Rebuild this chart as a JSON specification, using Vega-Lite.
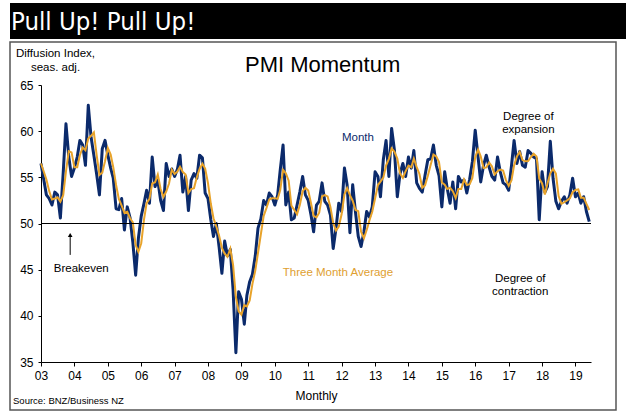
{
  "$schema": "https://vega.github.io/schema/vega-lite/v6.json",
  "description": "BNZ-BusinessNZ PMI, monthly with three month average",
  "background": "white",
  "padding": {"left": 9, "top": 3, "right": 0, "bottom": 0},
  "spacing": 3,
  "bounds": "flush",
  "config": {
    "font": "Liberation Sans",
    "axis": {"grid": false, "domainColor": "black", "tickColor": "black", "labelColor": "black", "titleColor": "black", "titleFontWeight": "normal"}
  },
  "vconcat": [
    {
      "width": 617,
      "height": 36,
      "view": {"fill": "black", "stroke": null},
      "data": {"values": [{"label": "Pull Up! Pull Up!"}]},
      "mark": {"type": "text", "align": "left", "baseline": "middle", "color": "white", "font": "Liberation Sans Narrow, DejaVu Sans Condensed, sans-serif", "fontSize": 25.5, "dx": 1, "dy": 1},
      "encoding": {
        "x": {"datum": 0, "type": "quantitative", "scale": {"domain": [0, 1]}, "axis": null},
        "text": {"field": "label"}
      }
    },
    {
      "width": 606,
      "height": 368,
      "view": {"stroke": "#555555", "strokeWidth": 1.5, "fill": "white"},
      "data": {"values": [
        {"month": "2003-01-01", "pmi": 56.5}, {"month": "2003-02-01", "pmi": 54.7}, {"month": "2003-03-01", "pmi": 53.1}, {"month": "2003-04-01", "pmi": 52.7},
        {"month": "2003-05-01", "pmi": 52.0}, {"month": "2003-06-01", "pmi": 53.4}, {"month": "2003-07-01", "pmi": 53.1}, {"month": "2003-08-01", "pmi": 50.6},
        {"month": "2003-09-01", "pmi": 55.5}, {"month": "2003-10-01", "pmi": 60.8}, {"month": "2003-11-01", "pmi": 57.2}, {"month": "2003-12-01", "pmi": 55.1},
        {"month": "2004-01-01", "pmi": 56.0}, {"month": "2004-02-01", "pmi": 57.2}, {"month": "2004-03-01", "pmi": 59.0}, {"month": "2004-04-01", "pmi": 58.5},
        {"month": "2004-05-01", "pmi": 56.3}, {"month": "2004-06-01", "pmi": 62.8}, {"month": "2004-07-01", "pmi": 59.4}, {"month": "2004-08-01", "pmi": 57.4},
        {"month": "2004-09-01", "pmi": 55.3}, {"month": "2004-10-01", "pmi": 53.1}, {"month": "2004-11-01", "pmi": 58.1}, {"month": "2004-12-01", "pmi": 59.0},
        {"month": "2005-01-01", "pmi": 57.4}, {"month": "2005-02-01", "pmi": 56.0}, {"month": "2005-03-01", "pmi": 54.9}, {"month": "2005-04-01", "pmi": 51.6},
        {"month": "2005-05-01", "pmi": 51.5}, {"month": "2005-06-01", "pmi": 52.7}, {"month": "2005-07-01", "pmi": 49.3}, {"month": "2005-08-01", "pmi": 51.8},
        {"month": "2005-09-01", "pmi": 50.6}, {"month": "2005-10-01", "pmi": 48.0}, {"month": "2005-11-01", "pmi": 44.4}, {"month": "2005-12-01", "pmi": 48.4},
        {"month": "2006-01-01", "pmi": 50.8}, {"month": "2006-02-01", "pmi": 52.2}, {"month": "2006-03-01", "pmi": 53.6}, {"month": "2006-04-01", "pmi": 52.2},
        {"month": "2006-05-01", "pmi": 57.2}, {"month": "2006-06-01", "pmi": 54.0}, {"month": "2006-07-01", "pmi": 54.7}, {"month": "2006-08-01", "pmi": 52.5},
        {"month": "2006-09-01", "pmi": 51.4}, {"month": "2006-10-01", "pmi": 56.5}, {"month": "2006-11-01", "pmi": 55.1}, {"month": "2006-12-01", "pmi": 55.9},
        {"month": "2007-01-01", "pmi": 55.1}, {"month": "2007-02-01", "pmi": 55.9}, {"month": "2007-03-01", "pmi": 57.4}, {"month": "2007-04-01", "pmi": 53.4},
        {"month": "2007-05-01", "pmi": 55.1}, {"month": "2007-06-01", "pmi": 51.4}, {"month": "2007-07-01", "pmi": 54.7}, {"month": "2007-08-01", "pmi": 55.4},
        {"month": "2007-09-01", "pmi": 54.9}, {"month": "2007-10-01", "pmi": 57.4}, {"month": "2007-11-01", "pmi": 57.1}, {"month": "2007-12-01", "pmi": 53.3},
        {"month": "2008-01-01", "pmi": 52.7}, {"month": "2008-02-01", "pmi": 50.4}, {"month": "2008-03-01", "pmi": 48.6}, {"month": "2008-04-01", "pmi": 50.0},
        {"month": "2008-05-01", "pmi": 47.5}, {"month": "2008-06-01", "pmi": 44.6}, {"month": "2008-07-01", "pmi": 48.1}, {"month": "2008-08-01", "pmi": 46.5},
        {"month": "2008-09-01", "pmi": 47.2}, {"month": "2008-10-01", "pmi": 42.9}, {"month": "2008-11-01", "pmi": 36.0}, {"month": "2008-12-01", "pmi": 42.6},
        {"month": "2009-01-01", "pmi": 41.8}, {"month": "2009-02-01", "pmi": 39.1}, {"month": "2009-03-01", "pmi": 42.2}, {"month": "2009-04-01", "pmi": 43.7},
        {"month": "2009-05-01", "pmi": 44.5}, {"month": "2009-06-01", "pmi": 46.5}, {"month": "2009-07-01", "pmi": 49.5}, {"month": "2009-08-01", "pmi": 50.5},
        {"month": "2009-09-01", "pmi": 52.5}, {"month": "2009-10-01", "pmi": 52.0}, {"month": "2009-11-01", "pmi": 53.3}, {"month": "2009-12-01", "pmi": 52.9},
        {"month": "2010-01-01", "pmi": 52.0}, {"month": "2010-02-01", "pmi": 53.1}, {"month": "2010-03-01", "pmi": 55.8}, {"month": "2010-04-01", "pmi": 58.5},
        {"month": "2010-05-01", "pmi": 52.0}, {"month": "2010-06-01", "pmi": 53.4}, {"month": "2010-07-01", "pmi": 50.4}, {"month": "2010-08-01", "pmi": 50.6},
        {"month": "2010-09-01", "pmi": 52.0}, {"month": "2010-10-01", "pmi": 53.4}, {"month": "2010-11-01", "pmi": 55.1}, {"month": "2010-12-01", "pmi": 53.1},
        {"month": "2011-01-01", "pmi": 52.5}, {"month": "2011-02-01", "pmi": 50.9}, {"month": "2011-03-01", "pmi": 49.1}, {"month": "2011-04-01", "pmi": 52.0},
        {"month": "2011-05-01", "pmi": 52.4}, {"month": "2011-06-01", "pmi": 54.4}, {"month": "2011-07-01", "pmi": 52.4}, {"month": "2011-08-01", "pmi": 52.0},
        {"month": "2011-09-01", "pmi": 50.9}, {"month": "2011-10-01", "pmi": 47.3}, {"month": "2011-11-01", "pmi": 49.5}, {"month": "2011-12-01", "pmi": 52.2},
        {"month": "2012-01-01", "pmi": 51.3}, {"month": "2012-02-01", "pmi": 56.0}, {"month": "2012-03-01", "pmi": 54.2}, {"month": "2012-04-01", "pmi": 49.0},
        {"month": "2012-05-01", "pmi": 54.2}, {"month": "2012-06-01", "pmi": 51.2}, {"month": "2012-07-01", "pmi": 48.6}, {"month": "2012-08-01", "pmi": 47.5},
        {"month": "2012-09-01", "pmi": 49.1}, {"month": "2012-10-01", "pmi": 51.3}, {"month": "2012-11-01", "pmi": 50.7}, {"month": "2012-12-01", "pmi": 51.8},
        {"month": "2013-01-01", "pmi": 55.6}, {"month": "2013-02-01", "pmi": 55.1}, {"month": "2013-03-01", "pmi": 52.9}, {"month": "2013-04-01", "pmi": 56.9},
        {"month": "2013-05-01", "pmi": 59.0}, {"month": "2013-06-01", "pmi": 55.1}, {"month": "2013-07-01", "pmi": 60.3}, {"month": "2013-08-01", "pmi": 57.9},
        {"month": "2013-09-01", "pmi": 52.9}, {"month": "2013-10-01", "pmi": 55.4}, {"month": "2013-11-01", "pmi": 56.5}, {"month": "2013-12-01", "pmi": 55.1},
        {"month": "2014-01-01", "pmi": 57.2}, {"month": "2014-02-01", "pmi": 56.0}, {"month": "2014-03-01", "pmi": 57.9}, {"month": "2014-04-01", "pmi": 54.4},
        {"month": "2014-05-01", "pmi": 53.8}, {"month": "2014-06-01", "pmi": 53.4}, {"month": "2014-07-01", "pmi": 55.2}, {"month": "2014-08-01", "pmi": 56.9},
        {"month": "2014-09-01", "pmi": 57.0}, {"month": "2014-10-01", "pmi": 58.5}, {"month": "2014-11-01", "pmi": 56.3}, {"month": "2014-12-01", "pmi": 55.2},
        {"month": "2015-01-01", "pmi": 51.8}, {"month": "2015-02-01", "pmi": 55.6}, {"month": "2015-03-01", "pmi": 53.8}, {"month": "2015-04-01", "pmi": 52.2},
        {"month": "2015-05-01", "pmi": 54.5}, {"month": "2015-06-01", "pmi": 51.6}, {"month": "2015-07-01", "pmi": 55.1}, {"month": "2015-08-01", "pmi": 54.5},
        {"month": "2015-09-01", "pmi": 54.7}, {"month": "2015-10-01", "pmi": 53.3}, {"month": "2015-11-01", "pmi": 54.8}, {"month": "2015-12-01", "pmi": 56.7},
        {"month": "2016-01-01", "pmi": 60.1}, {"month": "2016-02-01", "pmi": 57.2}, {"month": "2016-03-01", "pmi": 54.5}, {"month": "2016-04-01", "pmi": 56.3},
        {"month": "2016-05-01", "pmi": 57.4}, {"month": "2016-06-01", "pmi": 56.1}, {"month": "2016-07-01", "pmi": 55.1}, {"month": "2016-08-01", "pmi": 54.7},
        {"month": "2016-09-01", "pmi": 57.2}, {"month": "2016-10-01", "pmi": 55.6}, {"month": "2016-11-01", "pmi": 54.4}, {"month": "2016-12-01", "pmi": 54.2},
        {"month": "2017-01-01", "pmi": 53.6}, {"month": "2017-02-01", "pmi": 56.3}, {"month": "2017-03-01", "pmi": 59.0}, {"month": "2017-04-01", "pmi": 56.5},
        {"month": "2017-05-01", "pmi": 57.8}, {"month": "2017-06-01", "pmi": 56.3}, {"month": "2017-07-01", "pmi": 56.1}, {"month": "2017-08-01", "pmi": 57.9},
        {"month": "2017-09-01", "pmi": 57.6}, {"month": "2017-10-01", "pmi": 57.2}, {"month": "2017-11-01", "pmi": 57.0}, {"month": "2017-12-01", "pmi": 50.4},
        {"month": "2018-01-01", "pmi": 55.6}, {"month": "2018-02-01", "pmi": 53.4}, {"month": "2018-03-01", "pmi": 54.0}, {"month": "2018-04-01", "pmi": 58.9},
        {"month": "2018-05-01", "pmi": 54.9}, {"month": "2018-06-01", "pmi": 52.4}, {"month": "2018-07-01", "pmi": 51.6}, {"month": "2018-08-01", "pmi": 52.4},
        {"month": "2018-09-01", "pmi": 52.9}, {"month": "2018-10-01", "pmi": 52.2}, {"month": "2018-11-01", "pmi": 53.1}, {"month": "2018-12-01", "pmi": 54.9},
        {"month": "2019-01-01", "pmi": 52.9}, {"month": "2019-02-01", "pmi": 53.3}, {"month": "2019-03-01", "pmi": 52.2}, {"month": "2019-04-01", "pmi": 52.9},
        {"month": "2019-05-01", "pmi": 51.3}, {"month": "2019-06-01", "pmi": 50.2}
      ]},
      "layer": [
        {
          "mark": {"type": "line", "color": "#0b2a6b", "strokeWidth": 3, "strokeJoin": "round"},
          "encoding": {
            "x": {
              "field": "month", "type": "temporal",
              "scale": {"domain": [{"year": 2003, "month": 1, "date": 1}, {"year": 2019, "month": 6, "date": 20}], "range": [31, 581]},
              "axis": {"format": "%y", "tickCount": "year", "offset": -48, "tickSize": 4, "labelPadding": 4, "labelFontSize": 12, "labelFlush": false, "labelOverlap": false, "title": "Monthly", "titleFontSize": 12, "titlePadding": 9}
            },
            "y": {
              "field": "pmi", "type": "quantitative",
              "scale": {"domain": [35, 65], "range": [320, 43], "nice": false, "zero": false},
              "axis": {"values": [35, 40, 45, 50, 55, 60, 65], "offset": -31, "tickSize": 3, "labelPadding": 5, "labelFontSize": 12, "title": ["Diffusion Index,", "seas. adj."], "titleAngle": 0, "titleAlign": "center", "titleBaseline": "alphabetic", "titleX": 14, "titleY": 14, "titleFontSize": 11.5, "titleLineHeight": 14}
            }
          }
        },
        {
          "transform": [{"window": [{"op": "mean", "field": "pmi", "as": "avg3"}], "frame": [-2, 0], "sort": [{"field": "month"}]}],
          "mark": {"type": "line", "color": "#e8a32a", "strokeWidth": 2},
          "encoding": {
            "x": {"field": "month", "type": "temporal"},
            "y": {"field": "avg3", "type": "quantitative"}
          }
        },
        {
          "data": {"values": [{"level": 50}]},
          "mark": {"type": "rule", "color": "black", "strokeWidth": 1},
          "encoding": {
            "y": {"field": "level", "type": "quantitative"},
            "x": {"datum": {"year": 2003, "month": 1, "date": 1}, "type": "temporal"},
            "x2": {"datum": {"year": 2019, "month": 6, "date": 20}}
          }
        },
        {
          "data": {"values": [{"label": "PMI Momentum"}]},
          "mark": {"type": "text", "fontSize": 22, "color": "black", "baseline": "middle"},
          "encoding": {
            "x": {"datum": {"year": 2011, "month": 6, "date": 7}, "type": "temporal"},
            "y": {"datum": 67.2},
            "text": {"field": "label"}
          }
        },
        {
          "data": {"values": [{"label": "Month"}]},
          "mark": {"type": "text", "fontSize": 11.5, "color": "#0b2a6b", "baseline": "middle"},
          "encoding": {
            "x": {"datum": {"year": 2012, "month": 6, "date": 28}, "type": "temporal"},
            "y": {"datum": 59.3},
            "text": {"field": "label"}
          }
        },
        {
          "data": {"values": [{"label": "Three Month Average"}]},
          "mark": {"type": "text", "fontSize": 11.5, "color": "#e0a030", "baseline": "middle"},
          "encoding": {
            "x": {"datum": {"year": 2011, "month": 11, "date": 22}, "type": "temporal"},
            "y": {"datum": 44.67},
            "text": {"field": "label"}
          }
        },
        {
          "data": {"values": [{"label": "Breakeven"}]},
          "mark": {"type": "text", "fontSize": 11.5, "color": "black", "baseline": "middle"},
          "encoding": {
            "x": {"datum": {"year": 2004, "month": 3, "date": 16}, "type": "temporal"},
            "y": {"datum": 45.07},
            "text": {"field": "label"}
          }
        },
        {
          "data": {"values": [{"top": 48.7, "bottom": 46.6}]},
          "mark": {"type": "rule", "color": "black", "strokeWidth": 1},
          "encoding": {
            "x": {"datum": {"year": 2003, "month": 11, "date": 16}, "type": "temporal"},
            "y": {"field": "top", "type": "quantitative"},
            "y2": {"field": "bottom"}
          }
        },
        {
          "data": {"values": [{"tip": 48.75}]},
          "mark": {"type": "point", "shape": "triangle-up", "size": 22, "filled": true, "color": "black", "opacity": 1},
          "encoding": {
            "x": {"datum": {"year": 2003, "month": 11, "date": 16}, "type": "temporal"},
            "y": {"field": "tip", "type": "quantitative"}
          }
        },
        {
          "data": {"values": [{"label": ["Degree of", "expansion"]}]},
          "mark": {"type": "text", "fontSize": 11.5, "color": "black", "baseline": "middle", "lineHeight": 13.5},
          "encoding": {
            "x": {"datum": {"year": 2017, "month": 8, "date": 4}, "type": "temporal"},
            "y": {"datum": 61.58},
            "text": {"field": "label"}
          }
        },
        {
          "data": {"values": [{"label": ["Degree of", "contraction"]}]},
          "mark": {"type": "text", "fontSize": 11.5, "color": "black", "baseline": "middle", "lineHeight": 13.5},
          "encoding": {
            "x": {"datum": {"year": 2017, "month": 5, "date": 7}, "type": "temporal"},
            "y": {"datum": 44.01},
            "text": {"field": "label"}
          }
        },
        {
          "data": {"values": [{"label": "Source: BNZ/Business NZ"}]},
          "mark": {"type": "text", "fontSize": 9.5, "color": "black", "align": "left", "baseline": "middle"},
          "encoding": {
            "x": {"datum": {"year": 2002, "month": 3, "date": 1}, "type": "temporal"},
            "y": {"datum": 30.78},
            "text": {"field": "label"}
          }
        }
      ]
    }
  ]
}
